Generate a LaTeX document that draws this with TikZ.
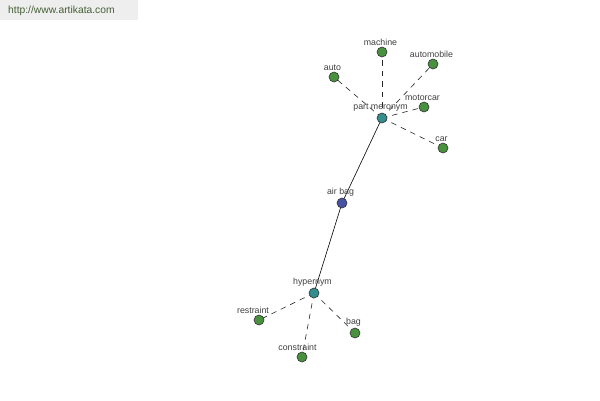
\documentclass[tikz,border=0pt]{standalone}
\usepackage{fontspec}
\setmainfont{Liberation Sans}
\usetikzlibrary{backgrounds}
\begin{document}
\begin{tikzpicture}[x=1pt,y=-1pt,
  vert/.style={circle,draw=black!80,line width=0.6pt,minimum size=10pt,inner sep=0pt},
  leaf/.style={vert,fill=leafc},
  hub/.style={vert,fill=hubc},
  centre/.style={vert,fill=centc},
  lblf/.style={inner sep=0pt,label distance=0.8pt,font=\fontsize{8.8}{9}\selectfont,text=black!75},
  lbl/.style={label={[lblf,xshift=-1.5pt]above:#1}},
  dashedge/.style={draw=black!85,line width=0.6pt,dash pattern=on 5.5pt off 5pt},
  solidedge/.style={draw=black,line width=0.6pt}]
\definecolor{leafc}{RGB}{72,145,62}
\definecolor{hubc}{RGB}{52,142,142}
\definecolor{centc}{RGB}{72,82,165}
\definecolor{hdrbg}{RGB}{238,238,238}
\definecolor{hdrtx}{RGB}{70,95,55}
\useasboundingbox (0,0) rectangle (600,400);
\node[hub,lbl={part meronym}] (pm) at (382,118) {};
\node[centre,lbl={air bag}] (ab) at (342,203) {};
\node[hub,lbl={hypernym}] (hy) at (314,293) {};
\node[leaf,lbl={machine}] (machine) at (382,52) {};
\node[leaf,lbl={automobile}] (automobile) at (433,64) {};
\node[leaf,lbl={auto}] (auto) at (334,77) {};
\node[leaf,lbl={motorcar}] (motorcar) at (424,107) {};
\node[leaf,lbl={car}] (car) at (443,148) {};
\node[leaf,label={[lblf,xshift=-6pt]above:restraint}] (restraint) at (259,320) {};
\node[leaf,lbl={bag}] (bag) at (355,333) {};
\node[leaf,label={[lblf,xshift=-4.5pt]above:constraint}] (constraint) at (302,357) {};
\begin{pgfonlayer}{background}
\fill[white] (0,0) rectangle (600,400);
\fill[hdrbg] (0,0) rectangle (138,20);
\draw[solidedge] (pm.center) -- (ab.center);
\draw[solidedge] (ab.center) -- (hy.center);
\foreach \n in {machine,automobile,auto,motorcar,car}
  \draw[dashedge] (pm.center) -- (\n.center);
\foreach \n in {restraint,bag,constraint}
  \draw[dashedge] (hy.center) -- (\n.center);
\end{pgfonlayer}
\node[anchor=west,inner sep=0pt,text=hdrtx,font=\fontsize{10.3}{12}\selectfont] (hdr) at (8,11) {http://www.artikata.com};
\end{tikzpicture}
\end{document}
